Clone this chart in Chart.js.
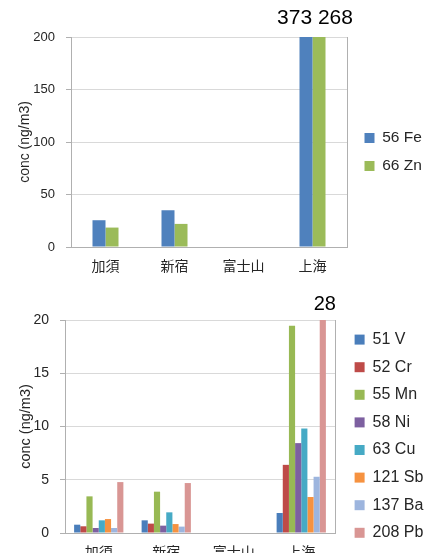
<!DOCTYPE html>
<html><head><meta charset="utf-8">
<script src="https://cdn.jsdelivr.net/npm/chart.js@4.4.1/dist/chart.umd.min.js"></script>
<style>
html,body{margin:0;padding:0;background:#fff;overflow:hidden;width:425px;height:553px}
#c1{position:absolute;left:0;top:0}
#c2{position:absolute;left:0;top:280px}
</style></head><body>
<canvas id="c1" width="425" height="280"></canvas>
<canvas id="c2" width="425" height="300"></canvas>
<script>
// ---- data ----
const sites = ['加須', '新宿', '富士山', '上海'];
const topSeriesLabels = ['56 Fe', '66 Zn'];
const fe = [25.5, 35, null, 373];
const zn = [18.5, 22, null, 268];
const topMax = 200, topStep = 50;

const bottomSeriesLabels = ['51 V', '52 Cr', '55 Mn', '58 Ni', '63 Cu', '121 Sb', '137 Ba', '208 Pb'];
const v51  = [0.78, 1.19, null, 1.88];
const cr52 = [0.63, 0.88, null, 6.4];
const mn55 = [3.44, 3.88, null, 19.47];
const ni58 = [0.47, 0.69, null, 8.44];
const cu63 = [1.19, 1.94, null, 9.81];
const sb121 = [1.31, 0.84, null, 3.38];
const ba137 = [0.47, 0.6, null, 5.28];
const pb208 = [4.78, 4.69, null, 28];
const bottomMax = 20, bottomStep = 5;
const yTitle = 'conc (ng/m3)';

// ---- styling ----
const F = '"Liberation Sans", Arial, sans-serif';
const FCJK = '"Noto Sans CJK JP", "Noto Sans CJK SC", sans-serif';
const TXT = '#262626';
const GRID = '#d9d9d9';
const AXIS = '#b0b0b0';

const overflowLabel = {
  id: 'overflowLabel',
  afterDatasetsDraw(chart, args, opts) {
    const yMax = chart.scales.y.max;
    const vals = [], xs = [];
    chart.data.datasets.forEach((ds, i) => {
      ds.data.forEach((val, j) => {
        if (val != null && val > yMax) {
          const el = chart.getDatasetMeta(i).data[j];
          vals.push(val);
          xs.push(el.x - el.width / 2, el.x + el.width / 2);
        }
      });
    });
    if (!vals.length) return;
    const ctx = chart.ctx;
    ctx.save();
    ctx.font = opts.size + 'px ' + F;
    ctx.fillStyle = '#000';
    ctx.textAlign = 'center';
    ctx.textBaseline = 'alphabetic';
    ctx.fillText(vals.join(' '), (Math.min(...xs) + Math.max(...xs)) / 2 + opts.dx, chart.chartArea.top - opts.gap);
    ctx.restore();
  }
};

function makeOptions(cfg) {
  return {
    responsive: false,
    animation: false,
    devicePixelRatio: 1,
    layout: { padding: { top: cfg.top, left: 0, right: 0, bottom: 0 } },
    datasets: { bar: { categoryPercentage: cfg.cat, barPercentage: cfg.bar, borderWidth: 0 } },
    scales: {
      x: {
        type: 'category',
        grid: { display: false, drawTicks: false },
        border: { display: true, color: AXIS },
        ticks: { font: { family: FCJK, size: 14 }, color: TXT, padding: cfg.xPad, maxRotation: 0 },
        afterFit(s) { s.height = cfg.xH; }
      },
      y: {
        min: 0, max: cfg.max,
        ticks: { stepSize: cfg.step, font: { family: F, size: cfg.tickSize }, color: TXT, padding: cfg.yPad },
        grid: { color: GRID, tickLength: 5, drawTicks: true, tickColor: AXIS },
        border: { display: true, color: AXIS },
        title: { display: true, text: yTitle, font: { family: F, size: cfg.titleSize }, color: TXT, padding: { top: cfg.titlePad, bottom: 0 } },
        afterFit(s) { s.width = cfg.yW; }
      },
      y2: {
        position: 'right',
        grid: { display: false, drawTicks: false },
        ticks: { display: false },
        border: { display: true, color: AXIS },
        afterFit(s) { s.width = cfg.y2W; }
      }
    },
    plugins: {
      tooltip: { enabled: false },
      legend: {
        position: 'right',
        align: 'start',
        maxWidth: cfg.legW,
        title: { display: cfg.legTitle > 0, text: ' ', font: { size: 10 }, padding: { top: Math.max(cfg.legTitle - 12, 0), bottom: 0 } },
        labels: { boxWidth: 10, boxHeight: 10, padding: cfg.legPad, font: { family: F, size: cfg.legSize }, color: TXT }
      },
      overflowLabel: { size: cfg.annSize, gap: cfg.annGap, dx: cfg.annDx }
    }
  };
}

new Chart(document.getElementById('c1'), {
  type: 'bar',
  data: {
    labels: sites,
    datasets: [
      { label: topSeriesLabels[0], data: fe, backgroundColor: '#4F81BD' },
      { label: topSeriesLabels[1], data: zn, backgroundColor: '#9BBB59' }
    ]
  },
  options: makeOptions({ top: 37, cat: 0.377, bar: 1.0, xPad: 10, xH: 33, max: topMax, step: topStep,
    tickSize: 13, yPad: 11, titleSize: 14, titlePad: 17, yW: 71, y2W: 5, legW: 73, legPad: 12.5, legSize: 15.5,
    legTitle: 80.75, annSize: 21, annGap: 13, annDx: 2.5 }),
  plugins: [overflowLabel]
});

new Chart(document.getElementById('c2'), {
  type: 'bar',
  data: {
    labels: sites,
    datasets: [
      { label: bottomSeriesLabels[0], data: v51,  backgroundColor: '#4A7EBB' },
      { label: bottomSeriesLabels[1], data: cr52, backgroundColor: '#BE4B48' },
      { label: bottomSeriesLabels[2], data: mn55, backgroundColor: '#98B954' },
      { label: bottomSeriesLabels[3], data: ni58, backgroundColor: '#7D60A0' },
      { label: bottomSeriesLabels[4], data: cu63, backgroundColor: '#46AAC5' },
      { label: bottomSeriesLabels[5], data: sb121, backgroundColor: '#F69240' },
      { label: bottomSeriesLabels[6], data: ba137, backgroundColor: '#9DB5DE' },
      { label: bottomSeriesLabels[7], data: pb208, backgroundColor: '#D99694' }
    ]
  },
  options: makeOptions({ top: 40, cat: 0.73, bar: 1.0, xPad: 10, xH: 47, max: bottomMax, step: bottomStep,
    tickSize: 14, yPad: 11, titleSize: 14.5, titlePad: 17, yW: 65, y2W: 8, legW: 82, legPad: 11.6, legSize: 16,
    legTitle: 0, annSize: 20, annGap: 10, annDx: 2 }),
  plugins: [overflowLabel]
});
</script>
</body></html>
